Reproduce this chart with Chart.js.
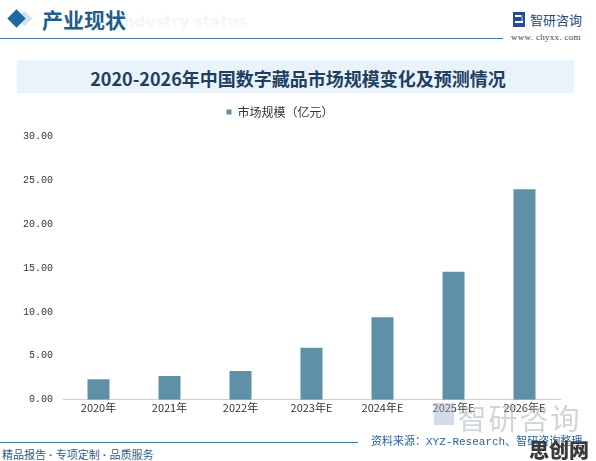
<!DOCTYPE html>
<html>
<head>
<meta charset="utf-8">
<script src="https://cdn.jsdelivr.net/npm/chart.js@4"></script>
<style>
  html, body { margin: 0; padding: 0; background: #fff; }
  #page { position: relative; width: 596px; height: 461px; overflow: hidden; font-family: "Noto Sans CJK SC", sans-serif; }
  .abs { position: absolute; white-space: nowrap; }
  #diamond { left: 10px; top: 12px; width: 13px; height: 13px; background: #1f69a0; transform: rotate(45deg); }
  #diamond2 { left: 19px; top: 13px; width: 11px; height: 11px; background: #cfe2ef; transform: rotate(45deg); }
  #head { left: 42px; top: 4px; font-size: 21px; font-weight: bold; color: #1f5d8e; }
  #headBg { left: 118px; top: 13px; font-size: 15px; font-weight: bold; color: #f4f6f9; font-family: "DejaVu Sans"; }
  #headLine { left: 0; top: 38px; width: 503px; height: 1px; background: #3e78aa; }
  #logoIcon { left: 513px; top: 12px; width: 12px; height: 15px; }
  #logoText { left: 530px; top: 10px; font-size: 13px; color: #2b4a7b; }
  #url { left: 511px; top: 32px; font-size: 9px; color: #444; font-family: "Liberation Serif"; letter-spacing: 0.3px; }
  #band { left: 17px; top: 60px; width: 557px; height: 33px; background: #eaf3fa; }
  #title { left: 0; width: 596px; top: 65px; text-align: center; font-size: 18px; font-weight: bold; color: #1e3f62; }
  #chartBox { position: absolute; left: 0; top: 88px; width: 596px; height: 328px; }
  #wm { left: 432px; top: 396px; font-size: 29px; color: rgba(170,178,188,0.55); letter-spacing: 2px; }
  #wmIcon { left: 434px; top: 403px; width: 20px; height: 22px; background: rgba(160,175,205,0.45); }
  #footLine { left: 0; top: 442px; width: 358px; height: 1px; background: #3e78aa; }
  #foot { left: 2px; top: 446px; font-size: 11px; color: #2d5f8f; }
  #foot span { font-family: "Liberation Sans"; font-weight: bold; }
  #src { left: 371px; top: 432px; font-size: 11px; color: #2b63a5; }
  #src span { font-family: "Liberation Mono"; }
  #scw { left: 529px; top: 435px; font-size: 20px; font-weight: 900; color: #3a3a3a; }
</style>
</head>
<body>
<div id="page">
  <div class="abs" id="diamond2"></div>
  <div class="abs" id="diamond"></div>
  <div class="abs" id="headBg">Industry status</div>
  <div class="abs" id="head">产业现状</div>
  <div class="abs" id="headLine"></div>
  <svg class="abs" id="logoIcon" viewBox="0 0 12 15">
    <rect x="0" y="0" width="12" height="15" fill="#2b4a90"/>
    <rect x="2" y="3" width="6" height="2" fill="#fff"/>
    <rect x="2" y="9" width="8" height="2" fill="#fff"/>
    <rect x="8" y="3" width="2" height="6" fill="#2fa0e0"/>
  </svg>
  <div class="abs" id="logoText">智研咨询</div>
  <div class="abs" id="url">www. chyxx. com</div>
  <div class="abs" id="band"></div>
  <div class="abs" id="title">2020-2026年中国数字藏品市场规模变化及预测情况</div>
  <div id="chartBox"><canvas id="chart"></canvas></div>
  <div class="abs" id="wmIcon"></div>
  <div class="abs" id="wm">&nbsp;&nbsp;&nbsp;智研咨询</div>
  <div class="abs" id="footLine"></div>
  <div class="abs" id="foot">精品报告<span> · </span>专项定制<span> · </span>品质服务</div>
  <div class="abs" id="src">资料来源：<span>XYZ-Research</span>、智研咨询整理</div>
  <div class="abs" id="scw">思创网</div>
</div>
<script>
const years = ["2020年", "2021年", "2022年", "2023年E", "2024年E", "2025年E", "2026年E"];
const marketSize = [2.33, 2.70, 3.27, 5.93, 9.40, 14.56, 23.95];
const seriesName = "市场规模（亿元）";
const yMax = 30;
const yStep = 5;

// extra room between the legend and the plot
const legendGap = {
  id: "legendGap",
  beforeUpdate(chart) {
    if (!chart.legend || chart.legend._gapPatched) return;
    const fit = chart.legend.fit;
    chart.legend.fit = function () {
      fit.call(this);
      this.height += 8;
    };
    chart.legend._gapPatched = true;
  },
};

const ctx = document.getElementById("chart").getContext("2d");

const myChart = new Chart(ctx, {
  type: "bar",
  data: {
    labels: years,
    datasets: [
      {
        label: seriesName,
        data: marketSize,
        backgroundColor: "#5e91a8",
        barPercentage: 0.62,
        categoryPercentage: 0.5,
      },
    ],
  },
  plugins: [legendGap],
  options: {
    responsive: true,
    maintainAspectRatio: false,
    animation: false,
    layout: {
      padding: { left: 0, right: 36, top: 0, bottom: 1 },
    },
    plugins: {
      legend: {
        display: true,
        position: "top",
        labels: {
          boxWidth: 5,
          boxHeight: 5,
          color: "#333",
          padding: 18,
          font: { family: "Noto Sans CJK SC", size: 12 },
        },
      },
      tooltip: { enabled: false },
    },
    scales: {
      y: {
        min: 0,
        max: yMax,
        afterFit: (axis) => { axis.width = 63; },
        ticks: {
          stepSize: yStep,
          color: "#333",
          padding: 10,
          font: { family: "Liberation Mono", size: 10 },
          callback: (v) => v.toFixed(2),
        },
        grid: { display: false, drawTicks: false },
        border: { display: false },
      },
      x: {
        ticks: {
          color: "#333",
          padding: 1,
          maxRotation: 0,
          font: { family: "Noto Sans CJK SC", size: 11 },
        },
        grid: { display: false, drawTicks: false },
        border: { display: true, color: "#d0d0d0" },
      },
    },
  },
});
</script>
</body>
</html>
